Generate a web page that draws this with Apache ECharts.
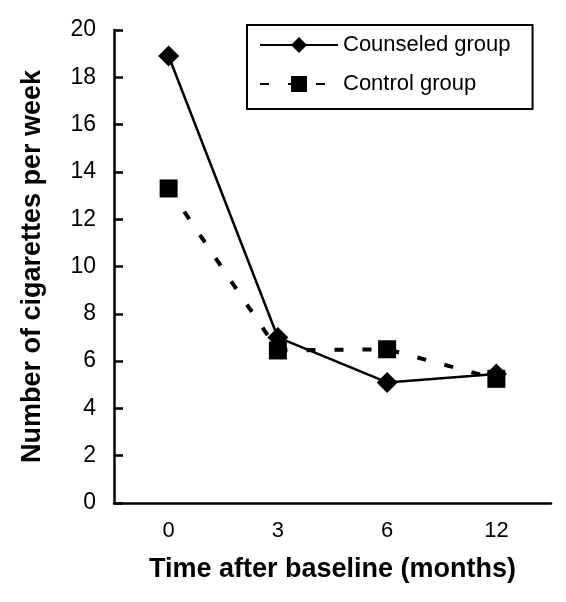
<!DOCTYPE html>
<html><head><meta charset="utf-8">
<script src="https://cdn.jsdelivr.net/npm/echarts@6/dist/echarts.min.js"></script>
<style>html,body{margin:0;padding:0;background:#fff}#c{width:566px;height:602px}</style>
</head><body><div id="c"></div>
<script>
const categories = ['0', '3', '6', '12'];
const counseled = [18.9, 7.0, 5.1, 5.45];
const control = [13.3, 6.45, 6.5, 5.25];
const yTicks = { min: 0, max: 20, interval: 2 };
const FONT = '"Liberation Sans", Arial, sans-serif';

const chart = echarts.init(document.getElementById('c'), null, { renderer: 'canvas' });
chart.setOption({
  animation: false,
  backgroundColor: '#fff',
  grid: { left: 114, right: 15, top: 30, bottom: 99 },
  legend: {
    orient: 'vertical', left: 247, top: 25,
    borderColor: '#000', borderWidth: 2, borderRadius: 0,
    padding: [9, 22, 14, 12],
    itemWidth: 78, itemHeight: 20, itemGap: 17,
    textStyle: { fontFamily: FONT, fontSize: 22, color: '#000' },
    data: ['Counseled group', 'Control group']
  },
  xAxis: {
    type: 'category', data: categories, boundaryGap: true,
    name: 'Time after baseline (months)', nameLocation: 'middle', nameGap: 53,
    nameTextStyle: { fontFamily: FONT, fontSize: 27, fontWeight: 'bold', color: '#000' },
    axisLine: { lineStyle: { color: '#000', width: 2.5 } },
    axisTick: { show: false },
    axisLabel: { fontFamily: FONT, fontSize: 22, color: '#000', margin: 17 },
    splitLine: { show: false }
  },
  yAxis: {
    type: 'value', min: yTicks.min, max: yTicks.max, interval: yTicks.interval,
    name: 'Number of cigarettes per week', nameLocation: 'middle', nameGap: 68, nameRotate: 90,
    nameTextStyle: { fontFamily: FONT, fontSize: 27, fontWeight: 'bold', color: '#000' },
    axisLine: { show: true, lineStyle: { color: '#000', width: 2.5 } },
    axisTick: { show: true, inside: true, length: 9, lineStyle: { color: '#000', width: 2.5 } },
    axisLabel: { fontFamily: FONT, fontSize: 23, color: '#000', margin: 18 },
    splitLine: { show: false }
  },
  series: [
    {
      name: 'Counseled group', type: 'line', data: counseled,
      symbol: 'diamond', symbolSize: 21, showAllSymbol: true,
      lineStyle: { color: '#000', width: 2.5, type: 'solid' },
      itemStyle: { color: '#000' }, z: 2
    },
    {
      name: 'Control group', type: 'line', data: control,
      symbol: 'rect', symbolSize: 18, showAllSymbol: true,
      lineStyle: { color: '#000', width: 4, type: [9, 19] },
      itemStyle: { color: '#000' }, z: 3
    }
  ]
});
</script></body></html>
